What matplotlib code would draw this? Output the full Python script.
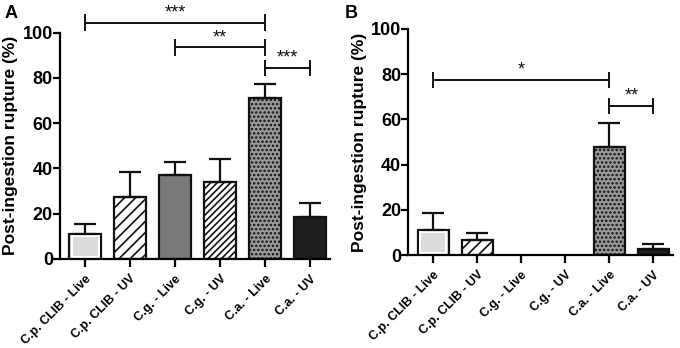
import matplotlib.pyplot as plt
import numpy as np

plt.rcParams["font.family"] = "Liberation Sans"
plt.rcParams["font.weight"] = "bold"
plt.rcParams["hatch.linewidth"] = 1.2

categories = ["C.p. CLIB - Live", "C.p. CLIB - UV", "C.g. - Live", "C.g. - UV", "C.a. - Live", "C.a. - UV"]
values_a = [11.0, 27.3, 37.0, 34.0, 71.0, 18.7]
errors_a = [4.5, 11.0, 5.8, 10.2, 6.2, 5.8]
values_b = [11.2, 6.8, 0.0, 0.0, 47.6, 2.5]
errors_b = [7.5, 3.0, 0.0, 0.0, 10.7, 2.3]
# (left bar, right bar, height, label)
sig_a = [(0, 4, 104.5, "***"), (2, 4, 93.5, "**"), (4, 5, 84.5, "***")]
sig_b = [(0, 4, 77.5, "*"), (4, 5, 66.0, "**")]

facecolors = ["#dcdcdc", "white", "#7a7a7a", "white", "#9a9a9a", "#1e1e1e"]
hatches = [None, "///", None, "/////", "....", None]


def draw_panel(ax, values, errors, sigs, xlim):
    x = np.arange(len(categories))
    vals = np.array(values)
    errs = np.array(errors)
    nz = vals > 0
    bars = ax.bar(x[nz], vals[nz], width=0.7, color=np.array(facecolors)[nz],
                  edgecolor="#111111", linewidth=1.6, zorder=2)
    for b, h in zip(bars, np.array(hatches, dtype=object)[nz]):
        if h:
            b.set_hatch(h)
    # white inner frame of the first (light grey) bar
    ax.bar(x[0], vals[0] - 1.6, bottom=0.8, width=0.6, fill=False,
           edgecolor="white", linewidth=1.4, zorder=2.5)
    ax.errorbar(x[nz], vals[nz], yerr=[np.zeros(nz.sum()), errs[nz]], fmt="none",
                ecolor="#111111", elinewidth=1.6, capsize=8, capthick=1.6, zorder=3)
    for i, j, y, txt in sigs:
        ax.plot([i, j], [y, y], color="#111111", lw=1.4, clip_on=False)
        for xx in (i, j):
            ax.plot([xx, xx], [y - 3.2, y + 3.2], color="#111111", lw=1.4, clip_on=False)
        ax.text((i + j) / 2, y + 0.5, txt, ha="center", va="bottom", fontsize=13,
                fontweight="normal", color="#111111")
    ax.set_ylim(0, 100)
    ax.set_xlim(*xlim)
    ax.set_yticks([0, 20, 40, 60, 80, 100])
    ax.set_xticks(x)
    ax.set_xticklabels(categories, rotation=45, ha="right", rotation_mode="anchor",
                       fontsize=9, fontweight="bold")
    ax.tick_params(axis="y", labelsize=13, width=1.6, length=5, pad=0)
    ax.tick_params(axis="x", width=1.6, length=6, pad=4)
    for lab in ax.get_yticklabels():
        lab.set_fontweight("bold")
    ax.spines["top"].set_visible(False)
    ax.spines["right"].set_visible(False)
    ax.spines["left"].set_linewidth(1.6)
    ax.spines["bottom"].set_linewidth(1.6)
    ax.set_ylabel("Post-ingestion rupture (%)", fontsize=12.5, fontweight="bold", labelpad=3)


fig = plt.figure(figsize=(6.8, 3.48), dpi=100)
ax_a = fig.add_axes([0.088, 0.256, 0.397, 0.65])
ax_b = fig.add_axes([0.600, 0.267, 0.390, 0.65])
draw_panel(ax_a, values_a, errors_a, sig_a, (-0.56, 5.44))
draw_panel(ax_b, values_b, errors_b, sig_b, (-0.57, 5.45))
fig.text(0.007, 0.985, "A", fontsize=13, fontweight="bold", va="top")
fig.text(0.507, 0.985, "B", fontsize=13, fontweight="bold", va="top")

fig.savefig("out.png", dpi=100)
